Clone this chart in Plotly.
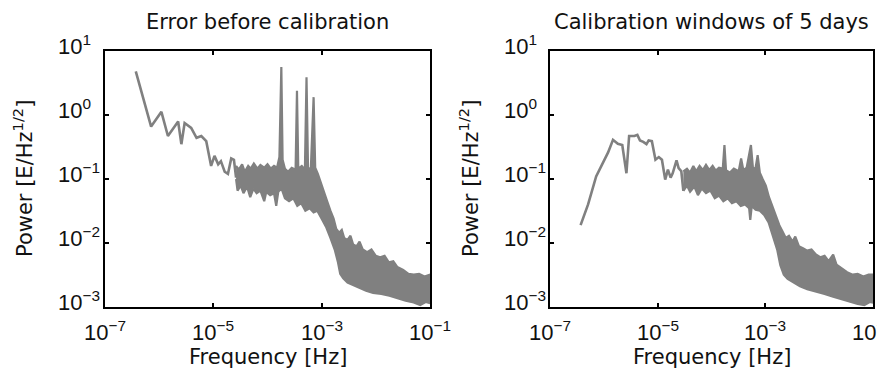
import math
import plotly.graph_objects as go

# ---------------- data ----------------
titles = ["Error before calibration", "Calibration windows of 5 days"]
x_ticks = [1e-7, 1e-5, 1e-3, 1e-1]
x_tick_text = ["10<sup>−7</sup>", "10<sup>−5</sup>", "10<sup>−3</sup>", "10<sup>−1</sup>"]
y_ticks = [1e-3, 1e-2, 1e-1, 1e0, 1e1]
y_tick_text = ["10<sup>−3</sup>", "10<sup>−2</sup>", "10<sup>−1</sup>", "10<sup>0</sup>", "10<sup>1</sup>"]

# Left panel: error before calibration
left_line_freq = [3.7e-7, 7.1e-7, 1.1e-6, 1.45e-6, 2.24e-6, 2.57e-6, 2.95e-6, 3.9e-6, 4.9e-6,
                  6.0e-6, 7.4e-6, 8.5e-6, 9.1e-6, 1.05e-5, 1.23e-5, 1.38e-5, 1.62e-5, 1.86e-5,
                  2.14e-5, 2.4e-5, 2.63e-5]
left_line_power = [4.8, 0.66, 1.12, 0.47, 0.79, 0.35, 0.75, 0.63, 0.44,
                   0.47, 0.39, 0.21, 0.16, 0.23, 0.17, 0.19, 0.13, 0.12,
                   0.21, 0.2, 0.105]

left_upper_freq = [2.63e-5, 2.95e-5, 3.4e-5, 3.8e-5, 4.4e-5, 4.9e-5, 5.6e-5, 6.5e-5, 7.4e-5, 8.7e-5,
                   1.0e-4, 1.15e-4, 1.32e-4, 1.5e-4, 1.66e-4, 1.8e-4, 1.9e-4, 2.1e-4, 2.4e-4, 2.8e-4,
                   3.3e-4, 3.5e-4, 3.7e-4, 4.3e-4, 4.9e-4, 5.25e-4, 5.6e-4, 6.3e-4, 7.1e-4, 7.6e-4,
                   8.5e-4, 9.5e-4, 1.1e-3, 1.26e-3, 1.45e-3, 1.66e-3, 1.86e-3, 2.1e-3, 2.35e-3, 2.6e-3,
                   3.0e-3, 3.4e-3, 3.8e-3, 4.4e-3, 5.0e-3, 5.75e-3, 6.9e-3, 8.3e-3, 1.0e-2, 1.2e-2,
                   1.45e-2, 1.74e-2, 2.1e-2, 2.5e-2, 3.2e-2, 4.0e-2, 5.0e-2, 6.3e-2, 7.9e-2, 1.0e-1]
left_upper_power = [0.16, 0.14, 0.17, 0.13, 0.16, 0.145, 0.175, 0.145, 0.165, 0.15,
                    0.17, 0.145, 0.16, 0.15, 0.22, 5.6, 0.20, 0.145, 0.13, 0.15,
                    0.14, 2.4, 0.145, 0.16, 0.14, 3.9, 0.15, 0.14, 1.9, 0.15,
                    0.12, 0.089, 0.063, 0.045, 0.032, 0.024, 0.0166, 0.0145, 0.016, 0.012,
                    0.0112, 0.013, 0.0095, 0.0089, 0.0105, 0.0079, 0.0072, 0.0079, 0.0063, 0.006,
                    0.0063, 0.005, 0.0052, 0.0042, 0.0038, 0.0033, 0.0032, 0.0033, 0.003, 0.0032]

left_lower_freq = [2.63e-5, 2.8e-5, 3.2e-5, 3.6e-5, 4.2e-5, 4.8e-5, 5.5e-5, 6.3e-5, 7.4e-5, 8.7e-5,
                   9.5e-5, 1.12e-4, 1.32e-4, 1.45e-4, 1.58e-4, 1.82e-4, 2.1e-4, 2.5e-4, 3.0e-4, 3.55e-4,
                   4.2e-4, 5.0e-4, 6.0e-4, 7.1e-4, 8.3e-4, 1.0e-3, 1.2e-3, 1.45e-3, 1.74e-3, 2.0e-3,
                   2.2e-3, 2.5e-3, 3.0e-3, 3.8e-3, 5.0e-3, 6.6e-3, 8.9e-3, 1.26e-2, 1.78e-2, 2.5e-2,
                   3.55e-2, 5.0e-2, 6.6e-2, 8.3e-2, 1.0e-1]
left_lower_power = [0.1, 0.066, 0.079, 0.06, 0.076, 0.052, 0.071, 0.06, 0.066, 0.045,
                    0.063, 0.056, 0.06, 0.038, 0.063, 0.071, 0.05, 0.045, 0.05, 0.038,
                    0.042, 0.032, 0.035, 0.03, 0.032, 0.024, 0.018, 0.012, 0.0079, 0.005,
                    0.0033, 0.0028, 0.0024, 0.0022, 0.002, 0.0018, 0.00166, 0.0016, 0.0015, 0.00138,
                    0.00126, 0.00118, 0.00107, 0.0012, 0.00115]

# Right panel: calibration windows of 5 days
right_line_freq = [3.7e-7, 5.1e-7, 7.2e-7, 1.05e-6, 1.2e-6, 1.48e-6, 1.82e-6, 2.2e-6, 2.63e-6, 2.95e-6,
                   3.7e-6, 4.2e-6, 4.7e-6, 5.4e-6, 6.2e-6, 6.8e-6, 7.8e-6, 9.1e-6, 1.05e-5, 1.2e-5,
                   1.38e-5, 1.55e-5, 1.74e-5, 1.9e-5, 2.24e-5, 2.45e-5, 2.75e-5, 3.0e-5]
right_line_power = [0.019, 0.04, 0.11, 0.2, 0.26, 0.41, 0.355, 0.34, 0.123, 0.47,
                    0.47, 0.49, 0.4, 0.38, 0.35, 0.4, 0.39, 0.2, 0.22, 0.2,
                    0.098, 0.14, 0.105, 0.123, 0.195, 0.148, 0.132, 0.065]

right_upper_freq = [3.0e-5, 3.5e-5, 4.0e-5, 4.6e-5, 5.2e-5, 6.0e-5, 6.9e-5, 7.9e-5, 9.1e-5, 1.05e-4,
                    1.2e-4, 1.38e-4, 1.62e-4, 1.74e-4, 1.86e-4, 2.2e-4, 2.6e-4, 3.2e-4, 3.55e-4, 3.9e-4,
                    4.5e-4, 5.4e-4, 5.9e-4, 6.6e-4, 7.2e-4, 7.9e-4, 8.9e-4, 1.02e-3, 1.17e-3, 1.38e-3,
                    1.58e-3, 1.82e-3, 2.1e-3, 2.4e-3, 2.75e-3, 3.2e-3, 3.6e-3, 4.2e-3, 5.0e-3, 6.0e-3,
                    7.2e-3, 8.7e-3, 1.05e-2, 1.26e-2, 1.5e-2, 1.82e-2, 2.1e-2, 2.6e-2, 3.3e-2, 4.2e-2,
                    5.2e-2, 6.6e-2, 8.3e-2, 1.0e-1]
right_upper_power = [0.132, 0.145, 0.126, 0.16, 0.132, 0.16, 0.138, 0.166, 0.138, 0.16,
                     0.135, 0.15, 0.145, 0.34, 0.138, 0.126, 0.145, 0.132, 0.21, 0.138,
                     0.15, 0.34, 0.145, 0.15, 0.235, 0.126, 0.1, 0.079, 0.052, 0.035,
                     0.026, 0.019, 0.015, 0.012, 0.013, 0.0105, 0.0126, 0.0089, 0.0083, 0.0076,
                     0.0079, 0.0066, 0.006, 0.0063, 0.0052, 0.0066, 0.0046, 0.004, 0.0035, 0.0032,
                     0.0033, 0.003, 0.0032, 0.0032]

right_lower_freq = [3.0e-5, 3.5e-5, 4.0e-5, 4.8e-5, 5.6e-5, 6.6e-5, 7.9e-5, 9.5e-5, 1.15e-4, 1.38e-4,
                    1.66e-4, 2.0e-4, 2.4e-4, 2.9e-4, 3.5e-4, 4.2e-4, 5.0e-4, 5.25e-4, 5.6e-4, 6.6e-4,
                    7.9e-4, 9.5e-4, 1.15e-3, 1.38e-3, 1.66e-3, 1.9e-3, 2.2e-3, 2.6e-3, 3.3e-3, 4.4e-3,
                    6.0e-3, 8.7e-3, 1.26e-2, 1.82e-2, 2.6e-2, 3.8e-2, 5.2e-2, 6.9e-2, 8.7e-2, 1.0e-1]
right_lower_power = [0.065, 0.079, 0.063, 0.076, 0.056, 0.071, 0.06, 0.066, 0.05, 0.055,
                     0.045, 0.05, 0.042, 0.045, 0.038, 0.04, 0.035, 0.023, 0.038, 0.033,
                     0.032, 0.0275, 0.021, 0.013, 0.0079, 0.0045, 0.0032, 0.00275, 0.0024, 0.0021,
                     0.0019, 0.00174, 0.0016, 0.00145, 0.00132, 0.0012, 0.00112, 0.00107, 0.0012, 0.00117]

# ---------------- figure ----------------
GRAY = "#808080"
FONT = "DejaVu Sans"          # titles
TICKFONT = "Liberation Sans"  # tick labels
TXT = "#111111"
W, H = 885, 374

fig = go.Figure()

panels = [
    (left_line_freq, left_line_power, left_upper_freq, left_upper_power,
     left_lower_freq, left_lower_power, "x", "y"),
    (right_line_freq, right_line_power, right_upper_freq, right_upper_power,
     right_lower_freq, right_lower_power, "x2", "y2"),
]
for lf, lp, uf, up, wf, wp, xa, ya in panels:
    fig.add_trace(go.Scatter(x=lf, y=lp, mode="lines", xaxis=xa, yaxis=ya,
                             line=dict(color=GRAY, width=2.6), showlegend=False,
                             hoverinfo="skip"))
    fig.add_trace(go.Scatter(x=uf + wf[::-1], y=up + wp[::-1], mode="lines", xaxis=xa, yaxis=ya,
                             fill="toself", fillcolor=GRAY,
                             line=dict(color=GRAY, width=2.2), showlegend=False,
                             hoverinfo="skip"))

# axes geometry in pixels
left_px = (97, 422)
right_px = (542, 865)
top_px, bottom_px = 43, 299

def xdom(a, b):
    return [a / W, b / W]

ydom = [1 - bottom_px / H, 1 - top_px / H]

axis_common = dict(showline=True, linecolor="black", linewidth=2, mirror="ticks",
                   ticks="inside", ticklen=4, tickwidth=1.5, tickcolor="black",
                   showgrid=False, zeroline=False, type="log", automargin=False)

fig.update_layout(
    template="none",
    width=W, height=H,
    margin=dict(l=0, r=0, t=0, b=0, pad=0, autoexpand=False),
    paper_bgcolor="white", plot_bgcolor="white",
    xaxis=dict(axis_common, domain=xdom(*left_px), range=[-7, -1],
               tickvals=x_ticks, showticklabels=False, anchor="y"),
    yaxis=dict(axis_common, domain=ydom, range=[-3, 1],
               tickvals=y_ticks, showticklabels=False, anchor="x"),
    xaxis2=dict(axis_common, domain=xdom(*right_px), range=[-7, -1],
                tickvals=x_ticks, showticklabels=False, anchor="y2"),
    yaxis2=dict(axis_common, domain=ydom, range=[-3, 1],
                tickvals=y_ticks, showticklabels=False, anchor="x2"),
)

annots = []
panel_info = [(left_px, titles[0], 15, 48, "x", "y"), (right_px, titles[1], 461, 494, "x2", "y2")]
for (a, b), title, ytitle_x, ylab_x, xref, yref in panel_info:
    cx = (a + b) / 2 / W
    annots.append(dict(text=title, x=cx, y=1, xref="paper", yref="paper",
                       xanchor="center", yanchor="top", showarrow=False,
                       font=dict(family=FONT, size=21, color=TXT)))
    annots.append(dict(text="Frequency [Hz]", x=cx, y=1 - 349 / H, xref="paper", yref="paper",
                       xanchor="center", yanchor="middle", showarrow=False, borderpad=0,
                       font=dict(family=FONT, size=21, color=TXT)))
    annots.append(dict(text="Power [E/Hz<sup>1/2</sup>]", x=ytitle_x / W, y=1 - 171 / H,
                       xref="paper", yref="paper", xanchor="center", yanchor="middle",
                       textangle=-90, showarrow=False,
                       font=dict(family=FONT, size=21, color=TXT)))
    # y tick labels, left-aligned like the reference
    for v, t in zip(y_ticks, y_tick_text):
        annots.append(dict(text=t, x=ylab_x / W, y=math.log10(v), xref="paper", yref=yref,
                           xanchor="left", yanchor="middle", yshift=6, showarrow=False,
                           font=dict(family=TICKFONT, size=22, color=TXT)))
    # x tick labels, centred on their ticks
    for v, t in zip(x_ticks, x_tick_text):
        annots.append(dict(text=t, x=math.log10(v), y=1 - 323 / H, xref=xref, yref="paper",
                           xanchor="center", yanchor="middle", showarrow=False, borderpad=0,
                           font=dict(family=TICKFONT, size=22, color=TXT)))
fig.update_layout(annotations=annots)

fig.write_html("out.html")
